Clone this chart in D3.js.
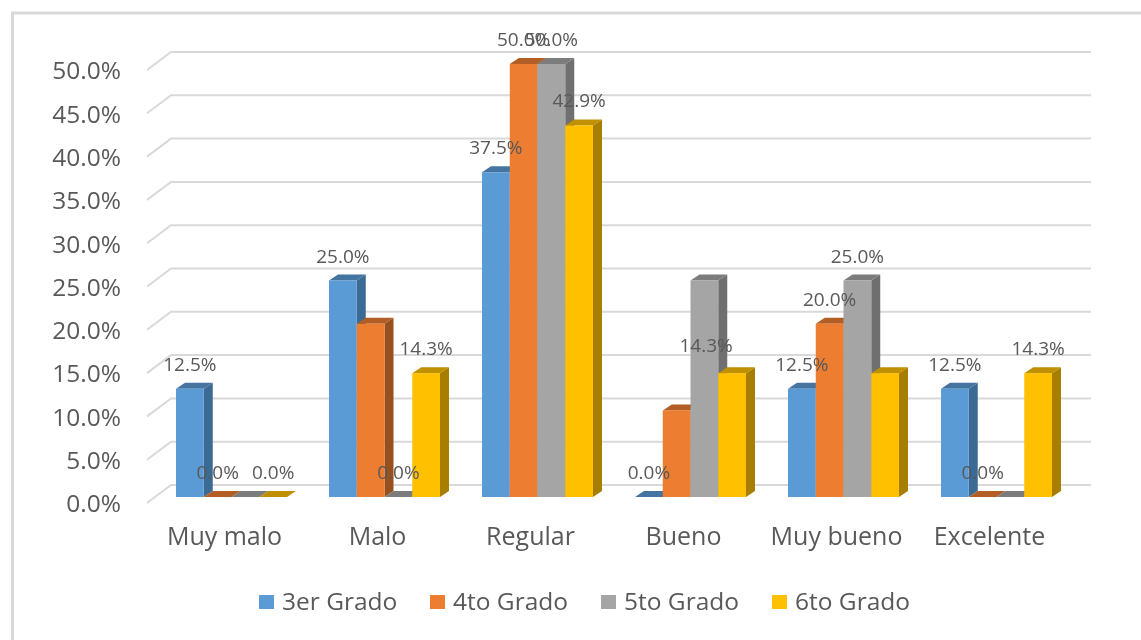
<!DOCTYPE html>
<html>
<head>
<meta charset="utf-8">
<script src="https://cdn.jsdelivr.net/npm/d3@7"></script>
<style>
body { margin: 0; background: #fff; }
svg { display: block; filter: blur(0.5px); }
text { font-family: "Open Sans", sans-serif; fill: #595959; }
</style>
</head>
<body>
<svg id="svg" width="1141" height="640"></svg>
<script>
const categories = ['Muy malo', 'Malo', 'Regular', 'Bueno', 'Muy bueno', 'Excelente'];
const seriesNames = ['3er Grado', '4to Grado', '5to Grado', '6to Grado'];
const grado3 = [12.5, 25.0, 37.5, 0.0, 12.5, 12.5];
const grado4 = [0.0, 20.0, 50.0, 10.0, 20.0, 0.0];
const grado5 = [0.0, 0.0, 50.0, 25.0, 25.0, 0.0];
const grado6 = [0.0, 14.3, 42.9, 14.3, 14.3, 14.3];
const allSeries = [grado3, grado4, grado5, grado6];
const yTicks = [0, 5, 10, 15, 20, 25, 30, 35, 40, 45, 50];

// front, side and top colour of each series
const fronts = ['#5b9bd5', '#ed7d31', '#a5a5a5', '#ffc000'];
const sides = ['#3b6a94', '#99501f', '#6f6f6f', '#a87e00'];
const tops = ['#44749f', '#b25e24', '#7c7c7c', '#bf9000'];
// labels the original chart does not show, as series-category
const hiddenLabels = ['2-0', '1-1', '1-3', '2-3', '3-4', '2-5'];
// this one was dragged sideways in the original
const labelShift = {'3-3': [-26, -3]};

const svg = d3.select('#svg');
const depth = {x: 9, y: 6};
const wall = {x: 24, y: 18};

const yScale = d3.scaleLinear().domain([0, 50]).range([497, 64]);
const xScale = d3.scaleBand().domain(categories).range([155, 1073]);
const xInner = d3.scaleBand().domain(d3.range(4)).range([21, 132]);
const fmt = function (d) { return d.toFixed(1) + '%'; };

// frame
svg.append('path')
    .attr('d', 'M12.5,640V13H1141')
    .attr('fill', 'none')
    .attr('stroke', '#d9d9d9')
    .attr('stroke-width', 3);

// grid on the back wall plus the slanted part on the side wall
const grid = svg.append('g');
yTicks.forEach(function (t) {
    const y = yScale(t) + 6;
    grid.append('path')
        .attr('d', 'M147,' + y + 'L171,' + (y - wall.y) + 'H1091')
        .attr('fill', 'none')
        .attr('stroke', '#d9d9d9')
        .attr('stroke-width', 2);
});

// y axis labels
const yAxis = svg.append('g')
    .attr('transform', 'translate(133,0)')
    .call(d3.axisLeft(yScale).tickValues(yTicks).tickFormat(fmt).tickSize(0).tickPadding(12));
yAxis.select('.domain').remove();
yAxis.selectAll('text').attr('font-size', 24.5).attr('font-family', '"Open Sans", sans-serif')
    .attr('dy', '0.32em').attr('transform', 'translate(0,7)');

// category labels
const xAxis = svg.append('g')
    .attr('transform', 'translate(0,527)')
    .call(d3.axisBottom(xScale).tickSize(0).tickPadding(0));
xAxis.select('.domain').remove();
xAxis.selectAll('text').attr('font-size', 25).attr('font-family', '"Open Sans", sans-serif')
    .attr('transform', 'translate(-7,0)');

// bars, series by series so the later ones sit on top
const bars = svg.append('g');
allSeries.forEach(function (values, s) {
    values.forEach(function (v, c) {
        const x0 = xScale(categories[c]) + xInner(s);
        const x1 = x0 + xInner.bandwidth();
        const yTop = yScale(v);
        const yBase = yScale(0);
        const g = bars.append('g');
        g.append('path')
            .attr('d', 'M' + x1 + ',' + yTop + 'l' + depth.x + ',' + (-depth.y) + 'V' + (yBase - depth.y) + 'L' + x1 + ',' + yBase + 'Z')
            .attr('fill', sides[s]);
        g.append('path')
            .attr('d', 'M' + x0 + ',' + yTop + 'l' + depth.x + ',' + (-depth.y) + 'H' + (x1 + depth.x) + 'L' + x1 + ',' + yTop + 'Z')
            .attr('fill', tops[s]);
        if (v > 0) {
            g.append('rect')
                .attr('x', x0)
                .attr('y', yTop)
                .attr('width', xInner.bandwidth())
                .attr('height', yBase - yTop)
                .attr('fill', fronts[s]);
        }
    });
});

// data labels go last, they overlap the bars
const labels = svg.append('g');
allSeries.forEach(function (values, s) {
    values.forEach(function (v, c) {
        const key = s + '-' + c;
        if (hiddenLabels.indexOf(key) >= 0) return;
        const shift = labelShift[key] || [0, 0];
        labels.append('text')
            .attr('x', xScale(categories[c]) + xInner(s) + xInner.bandwidth() / 2 + shift[0])
            .attr('y', yScale(v) - 18 + shift[1])
            .attr('text-anchor', 'middle')
            .attr('font-size', 19)
            .text(fmt(v));
    });
});

// legend
const legendX = d3.scalePoint().domain(seriesNames).range([259, 772]);
const legend = svg.append('g');
seriesNames.forEach(function (name, i) {
    legend.append('rect')
        .attr('x', legendX(name))
        .attr('y', 595)
        .attr('width', 15)
        .attr('height', 14)
        .attr('fill', fronts[i]);
    legend.append('text')
        .attr('x', legendX(name) + 23)
        .attr('y', 610)
        .attr('font-size', 24.5)
        .text(name);
});
</script>
</body>
</html>
